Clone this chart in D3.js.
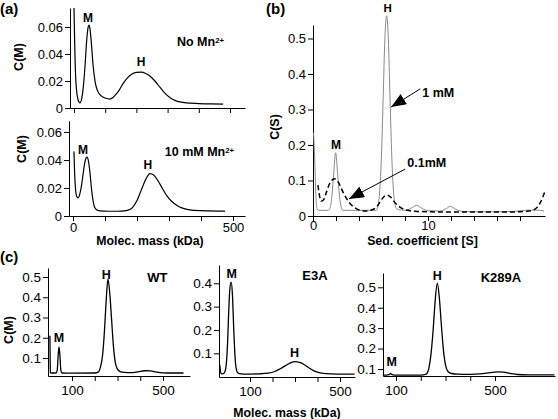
<!DOCTYPE html>
<html><head><meta charset="utf-8">
<script src="https://cdn.jsdelivr.net/npm/d3@7"></script>
<style>body{margin:0;background:#fff}</style>
</head><body><svg id="c" width="558" height="419" style="background:#fff"></svg>
<script>
// ---------- DATA ----------
// (a) c(M) distributions, [molecular mass kDa, c(M)]
const noMn = [[0,0.074],[2,0.05],[4,0.031],[6,0.02],[10,0.0095],[15,0.0048],[19,0.0038],[24,0.0062],[30,0.016],[35,0.03],[41,0.051],[45,0.0595],[48,0.0615],[51,0.059],[55,0.05],[61,0.032],[68,0.019],[76,0.0125],[88,0.0088],[100,0.0074],[115,0.0066],[125,0.0078],[135,0.0102],[145,0.0133],[157,0.018],[170,0.022],[186,0.0252],[200,0.0264],[215,0.0266],[230,0.0256],[245,0.0233],[260,0.0198],[276,0.0152],[292,0.0108],[308,0.0076],[325,0.0055],[340,0.0045],[360,0.0038],[400,0.0033],[440,0.003],[478,0.0029]];
const mn10 = [[3,0.046],[5,0.031],[8,0.019],[12,0.0138],[16,0.013],[21,0.0155],[26,0.021],[31,0.029],[36,0.037],[41,0.0415],[44,0.042],[48,0.0395],[53,0.031],[58,0.019],[63,0.0105],[68,0.006],[75,0.0043],[85,0.0036],[110,0.0034],[140,0.0034],[160,0.0036],[172,0.0042],[185,0.0058],[200,0.011],[215,0.0195],[228,0.0265],[240,0.0303],[252,0.0293],[266,0.025],[280,0.0195],[293,0.0145],[308,0.0105],[325,0.0075],[340,0.0058],[356,0.0047],[380,0.004],[420,0.0036],[475,0.0035]];
// (b) c(S) distributions, [sedimentation coefficient S, c(S)]
const mM1 = [[0.05,0.235],[0.15,0.16],[0.25,0.06],[0.35,0.02],[0.5,0.016],[1.3,0.016],[1.5,0.025],[1.65,0.058],[1.8,0.12],[1.97,0.178],[2.14,0.12],[2.3,0.058],[2.45,0.025],[2.6,0.016],[5.5,0.016],[5.65,0.028],[5.8,0.07],[5.95,0.168],[6.1,0.33],[6.25,0.5],[6.4,0.564],[6.55,0.5],[6.7,0.33],[6.85,0.168],[7.0,0.07],[7.15,0.03],[7.3,0.02],[7.6,0.017],[8.0,0.016],[8.5,0.021],[9.0,0.03],[9.5,0.021],[10.0,0.015],[11.0,0.014],[11.5,0.019],[11.95,0.027],[12.4,0.019],[13.0,0.013],[14,0.012],[16,0.012],[17.5,0.013],[18.5,0.016],[19.3,0.017],[20.1,0.014]];
const mM01 = [[0.43,0.087],[0.55,0.06],[0.7,0.042],[0.9,0.045],[1.2,0.07],[1.5,0.095],[1.9,0.105],[2.2,0.095],[2.6,0.068],[3.2,0.036],[3.7,0.022],[4.1,0.016],[4.6,0.014],[5.1,0.017],[5.6,0.028],[6.0,0.048],[6.4,0.059],[6.8,0.052],[7.1,0.039],[7.4,0.029],[7.7,0.022],[8.2,0.016],[9.0,0.013],[10,0.012],[12,0.011],[14,0.011],[16,0.011],[18,0.012],[19.0,0.015],[19.5,0.025],[19.8,0.04],[20.0,0.055],[20.15,0.068]];
// (c) c(M) of mutants, [kDa, c(M)]
const wt = [[3,0.21],[5,0.03],[8,0.026],[30,0.026],[35,0.04],[39,0.11],[43,0.155],[47,0.11],[51,0.04],[56,0.026],[100,0.025],[200,0.026],[215,0.03],[225,0.055],[235,0.12],[243,0.24],[250,0.38],[258,0.489],[266,0.42],[274,0.29],[282,0.16],[290,0.08],[300,0.045],[312,0.033],[330,0.029],[360,0.028],[390,0.032],[420,0.037],[445,0.036],[470,0.031],[500,0.027],[540,0.026],[590,0.026]];
const e3a = [[-34,0.05],[-31,0.02],[-27,0.012],[-18,0.013],[-10,0.025],[-4,0.07],[1,0.16],[5,0.27],[10,0.37],[16,0.405],[22,0.35],[27,0.22],[32,0.11],[37,0.045],[43,0.02],[52,0.013],[70,0.011],[100,0.011],[140,0.012],[180,0.015],[210,0.022],[235,0.034],[260,0.048],[280,0.059],[300,0.064],[320,0.061],[340,0.052],[360,0.039],[380,0.027],[400,0.019],[425,0.014],[460,0.012],[520,0.011],[565,0.011]];
const k289a = [[47,0.07],[60,0.07],[72,0.072],[78,0.078],[84,0.072],[95,0.07],[150,0.07],[200,0.07],[222,0.075],[232,0.1],[242,0.18],[250,0.29],[258,0.43],[267,0.52],[275,0.45],[283,0.32],[291,0.2],[300,0.12],[310,0.088],[325,0.078],[350,0.075],[400,0.074],[440,0.076],[480,0.082],[510,0.086],[535,0.085],[560,0.079],[590,0.073],[630,0.071],[700,0.071],[740,0.071]];
// tick values
const aXTicks = [0,100,200,300,400,500];
const aYTicks = [0,0.02,0.04,0.06];
const bXTicks = [0,2,4,6,8,10,12,14,16,18];
const bYTicks = [0,0.1,0.2,0.3,0.4,0.5];
const cXTicks = [100,200,300,400,500];
const cYTicks5 = [0.1,0.2,0.3,0.4,0.5];
const cYTicks4 = [0.1,0.2,0.3,0.4];

// ---------- DRAWING ----------
const FONT = '"Liberation Sans", Arial, Helvetica, sans-serif';
const svg = d3.select("#c");
svg.append("rect").attr("width",558).attr("height",419).attr("fill","#fff");

function sc(d0,r0,d1,r1,e0,e1){
  const s=d3.scaleLinear().domain([d0,d1]).range([r0,r1]);
  return d3.scaleLinear().domain([s.invert(e0),s.invert(e1)]).range([e0,e1]);
}
function axes(x,y,o){
  const xl=x.range()[0], yb=y.range()[0];
  const gx=svg.append("g").attr("transform",`translate(0,${yb})`)
    .call(d3.axisBottom(x).tickValues(o.xt).tickSize(5).tickSizeOuter(0).tickPadding(o.xpad!=null?o.xpad:3)
      .tickFormat(d=>o.xl.includes(d)?String(d):""));
  const gy=svg.append("g").attr("transform",`translate(${xl},0)`)
    .call(d3.axisLeft(y).tickValues(o.yt).tickSize(5).tickSizeOuter(0).tickPadding(2).tickFormat(d=>String(d)));
  [gx,gy].forEach(g=>{g.attr("font-family",FONT).attr("font-size",o.fs);
    g.selectAll("text").attr("fill","#000");g.selectAll("line,path").attr("stroke","#000");});
}
function curve(data,x,y,stroke,w,dash){
  svg.append("path").datum(data)
    .attr("d",d3.line().x(d=>x(d[0])).y(d=>y(d[1])).curve(d3.curveMonotoneX))
    .attr("fill","none").attr("stroke",stroke).attr("stroke-width",w)
    .attr("stroke-dasharray",dash||null).attr("stroke-linejoin","round");
}
function txt(t,px,py,size,anchor,bold=true){
  return svg.append("text").attr("x",px).attr("y",py).attr("dy","0.35em").text(t)
    .attr("font-family",FONT).attr("font-size",size).attr("font-weight",bold?"bold":"normal")
    .attr("text-anchor",anchor||"middle").attr("fill","#000");
}
function supTxt(main,sup,px,py,size){
  const t=svg.append("text").attr("x",px).attr("y",py).attr("dy","0.35em")
    .attr("font-family",FONT).attr("font-size",size).attr("font-weight","bold").attr("fill","#000");
  t.append("tspan").text(main);
  t.append("tspan").text(sup).attr("font-size",size*0.62).attr("dy","-0.45em");
}
function ylab(t,px,py,size){
  svg.append("text").attr("transform",`translate(${px},${py}) rotate(-90)`).attr("dy","0.35em")
    .attr("text-anchor","middle").attr("font-family",FONT).attr("font-size",size)
    .attr("font-weight","bold").attr("fill","#000").text(t);
}

// panel labels
txt("(a)",0,9,15,"start");
txt("(b)",266,9,15,"start");
txt("(c)",0,257,15,"start");

// ----- (a) top -----
{
  const x=sc(0,74,500,230,70,245), y=sc(0,108,0.06,27,108,8);
  axes(x,y,{xt:aXTicks,xl:[],yt:aYTicks,fs:13});
  curve(noMn,x,y,"#000",1.2);
  txt("M",x(45),y(0.067),12);
  txt("H",x(215),y(0.034),12);
  supTxt("No Mn","2+",x(330),y(0.0489),12.5);
  ylab("C(M)",19,57,12.5);
}
// ----- (a) bottom -----
{
  const x=sc(0,73,500,233,69,245), y=sc(0,216,0.06,132,216,120.7);
  axes(x,y,{xt:aXTicks,xl:[0,500],yt:aYTicks,fs:13,xpad:2});
  curve(mn10,x,y,"#000",1.2);
  txt("M",x(31),y(0.047),12);
  txt("H",x(234),y(0.0364),12);
  supTxt("10 mM Mn","2+",x(287),y(0.0457),12.5);
  ylab("C(M)",22,149,12.5);
  txt("Molec. mass (kDa)",150,240.5,12.3);
}
// ----- (b) -----
{
  const x=sc(0,313,10,428,313,545), y=sc(0,216,0.5,38.5,216,25);
  axes(x,y,{xt:bXTicks,xl:[0,10],yt:bYTicks,fs:13,xpad:0});
  curve(mM1,x,y,"#8a8a8a",1);
  curve(mM01,x,y,"#000",1.5,"5,3");
  txt("M",x(2.0),y(0.2),12);
  txt("H",x(6.49),y(0.586),11.5);
  ylab("C(S)",275,127,12.5);
  txt("Sed. coefficient [S]",422.5,241,12.3);
  const defs=svg.append("defs");
  defs.append("marker").attr("id","ah").attr("markerUnits","userSpaceOnUse")
    .attr("markerWidth",16).attr("markerHeight",12).attr("refX",15).attr("refY",6).attr("orient","auto")
    .append("path").attr("d","M0,0L15,6L0,12Z").attr("fill","#000");
  const arrows=[[[9.32,0.358],[6.79,0.307]],[[8.0,0.132],[3.13,0.048]]];
  arrows.forEach(a=>svg.append("line").attr("x1",x(a[0][0])).attr("y1",y(a[0][1]))
    .attr("x2",x(a[1][0])).attr("y2",y(a[1][1])).attr("stroke","#000").attr("stroke-width",1)
    .attr("marker-end","url(#ah)"));
  txt("1 mM",x(9.5),y(0.348),12.5,"start");
  txt("0.1mM",x(8.2),y(0.15),12.5,"start");
}
// ----- (c) WT -----
{
  const x=sc(100,72,500,163,48,190), y=sc(0.1,358,0.5,277,376,268);
  axes(x,y,{xt:cXTicks,xl:[100,500],yt:cYTicks5,fs:13.5,xpad:4});
  curve(wt,x,y,"#000",1.3);
  txt("M",x(43),y(0.201),12.5);
  txt("H",x(250.7),y(0.512),12.5);
  txt("WT",x(475),y(0.498),13);
  ylab("C(M)",9,330,12.5);
}
// ----- (c) E3A -----
{
  const x=sc(100,250,500,340,219,355), y=sc(0.1,353.3,0.4,283.3,377,265);
  axes(x,y,{xt:cXTicks,xl:[100,500],yt:cYTicks4,fs:13.5,xpad:4});
  curve(e3a,x,y,"#000",1.3);
  txt("M",x(18.7),y(0.442),12.5);
  txt("H",x(297.8),y(0.1016),12.5);
  txt("E3A",x(388.9),y(0.432),13);
  txt("Molec. mass (kDa)",287,412.5,12.3);
}
// ----- (c) K289A -----
{
  const x=sc(100,396,500,495,383,555), y=sc(0.1,369,0.5,287.3,376,273);
  axes(x,y,{xt:cXTicks,xl:[100,500],yt:cYTicks5,fs:13.5,xpad:4});
  curve(k289a,x,y,"#000",1.3);
  txt("M",x(82.6),y(0.134),12.5);
  txt("H",x(266.5),y(0.555),12.5);
  txt("K289A",x(524),y(0.548),13);
}
</script></body></html>
